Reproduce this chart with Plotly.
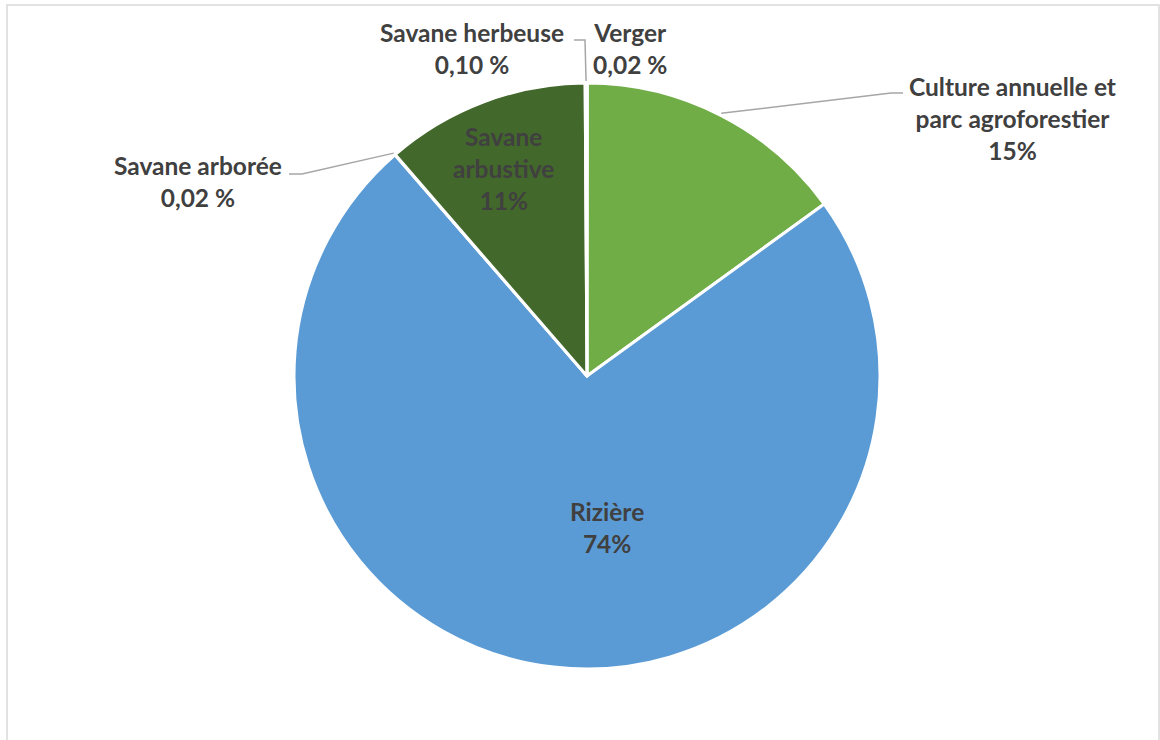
import math
import plotly.graph_objects as go

# ---- data ----
labels = ["Verger", "Culture annuelle et parc agroforestier", "Rizière",
          "Savane arborée", "Savane arbustive", "Savane herbeuse"]
values = [0.02, 15.0, 73.6, 0.02, 11.26, 0.10]
pct_text = ["0,02 %", "15%", "74%", "0,02 %", "11%", "0,10 %"]
label_lines = ["Verger", "Culture annuelle et<br>parc agroforestier", "Rizière",
               "Savane arborée", "Savane<br>arbustive", "Savane herbeuse"]
colors = ["#FFC000", "#70AD47", "#5B9BD5", "#A5A5A5", "#43682B", "#264478"]

# ---- layout constants (pixels) ----
W, H = 1160, 740
CX, CY, R = 587, 376, 293
TXT = "#404040"
FONT = "Lato"
FSIZE = 24.5

# label block centres (pixels) and leader elbow points
label_pos = {
    "Verger": (630, 48),
    "Culture annuelle et parc agroforestier": (1012, 118),
    "Rizière": (607, 527),
    "Savane arborée": (198, 181),
    "Savane arbustive": (503, 168),
    "Savane herbeuse": (472, 48),
}
leaders = {
    "Savane herbeuse": [(585, 40), (574, 40)],
    "Savane arborée": [(302, 174), (289, 174)],
    "Culture annuelle et parc agroforestier": [(891, 93), (903, 93)],
}

def px(x):
    return x / W

def py(y):
    return 1 - y / H

fig = go.Figure(go.Pie(
    labels=labels,
    values=values,
    sort=False,
    direction="clockwise",
    rotation=0,
    marker=dict(colors=colors, line=dict(color="white", width=3)),
    textinfo="none",
    hoverinfo="label+percent",
    showlegend=False,
    domain=dict(x=[px(CX - R), px(CX + R)], y=[py(CY + R), py(CY - R)]),
))

# mid angles of slices (clockwise from 12 o'clock)
total = sum(values)
cum = 0.0
mid = {}
for lab, v in zip(labels, values):
    mid[lab] = (cum + v / 2) / total * 2 * math.pi
    cum += v

annotations = []
for lab, lines, pct in zip(labels, label_lines, pct_text):
    x, y = label_pos[lab]
    annotations.append(dict(
        x=px(x), y=py(y), xref="paper", yref="paper",
        text=f"{lines}<br>{pct}", showarrow=False, align="center",
        xanchor="center", yanchor="middle",
        font=dict(family=FONT, size=FSIZE, color=TXT, weight="bold"),
    ))

shapes = []
for lab, pts in leaders.items():
    a = mid[lab]
    ex = CX + (R + 2) * math.sin(a)
    ey = CY - (R + 2) * math.cos(a)
    path_pts = [(ex, ey)] + pts
    path = "M " + " L ".join(f"{px(x)},{py(y)}" for x, y in path_pts)
    shapes.append(dict(type="path", path=path, xref="paper", yref="paper",
                       line=dict(color="#A6A6A6", width=1.5)))

# chart frame
shapes.append(dict(type="rect", xref="paper", yref="paper",
                   x0=px(7), x1=px(1159), y0=-0.2, y1=py(5),
                   line=dict(color="#D9D9D9", width=1.5)))

fig.update_layout(
    width=W, height=H,
    margin=dict(l=0, r=0, t=0, b=0),
    paper_bgcolor="white",
    plot_bgcolor="white",
    annotations=annotations,
    shapes=shapes,
)

fig.write_html(
    "out.html",
    config={"displayModeBar": False},
    post_script="document.body.style.margin='0';document.body.style.overflow='hidden';",
)
